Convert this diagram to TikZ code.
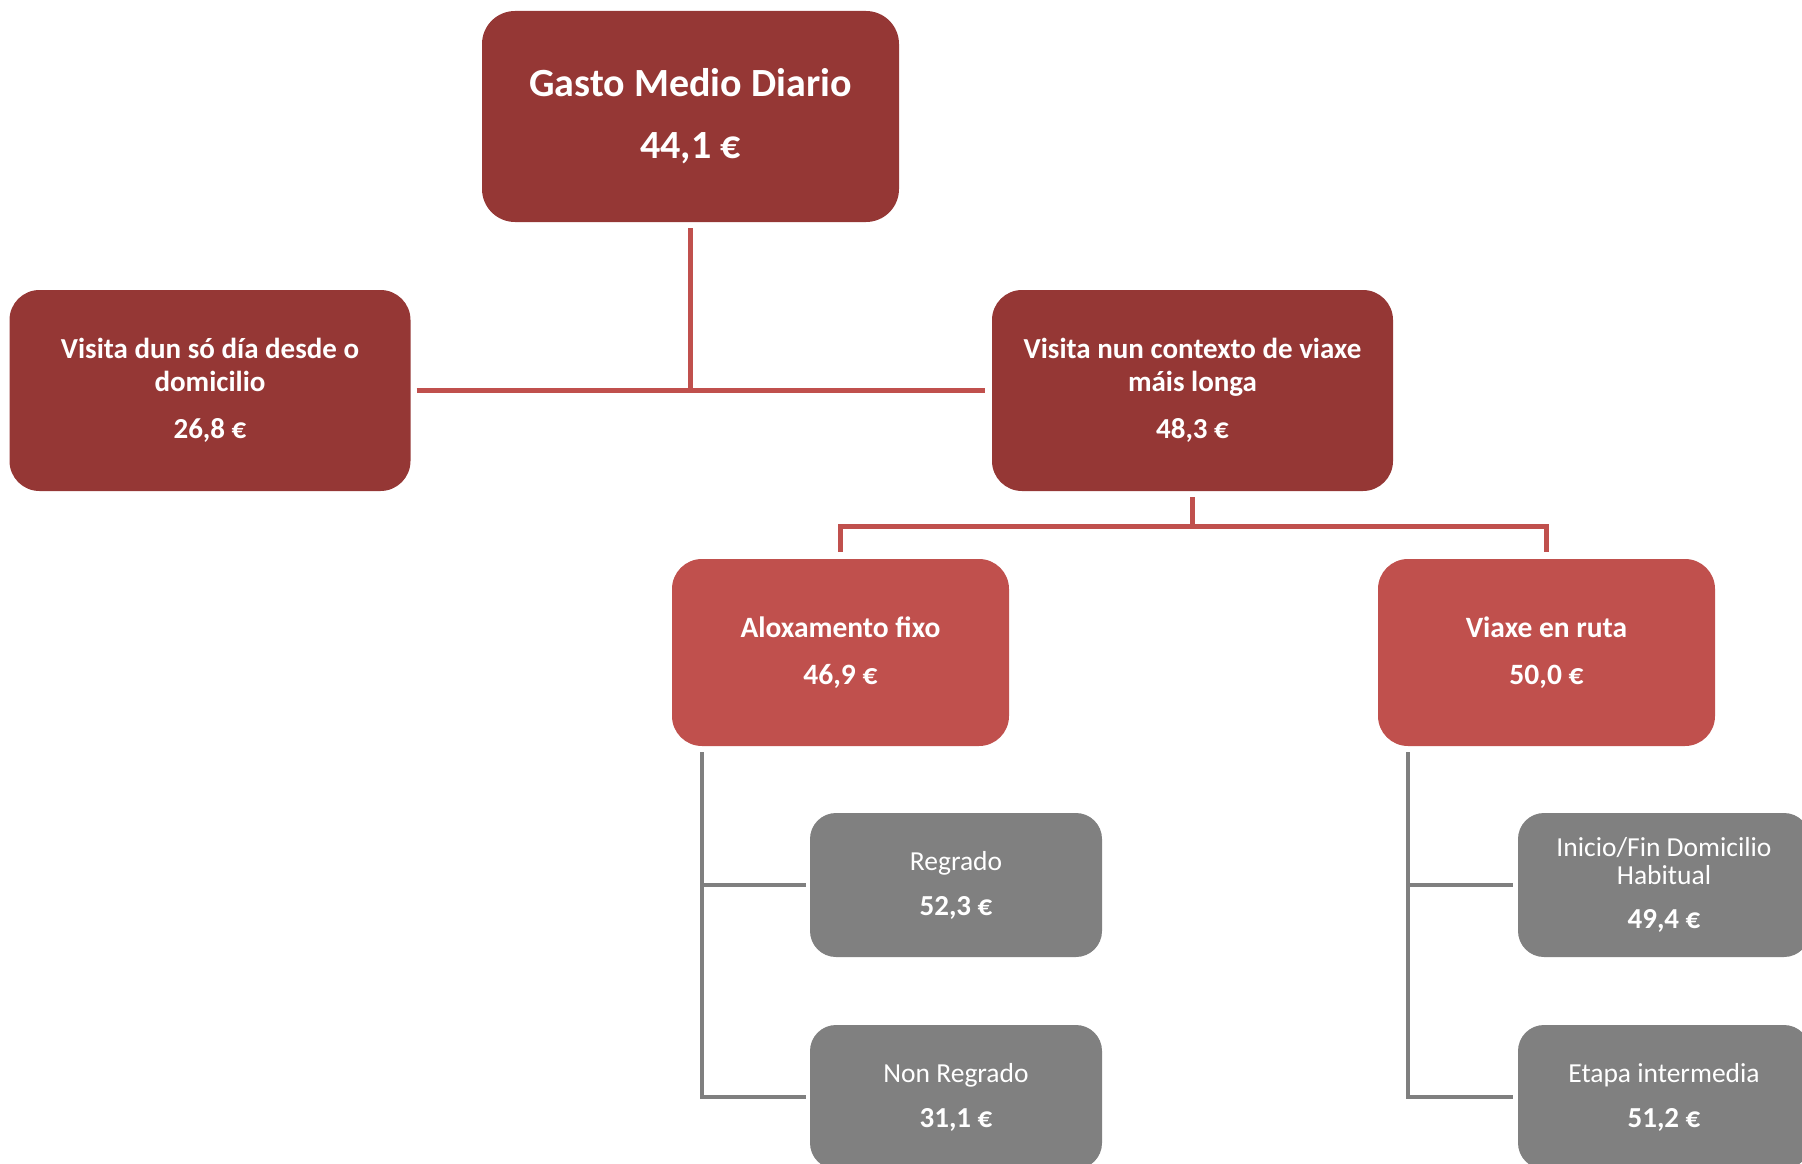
\documentclass[tikz,border=0pt]{standalone}
\usepackage{fontspec}
\setmainfont{Carlito}
\definecolor{dred}{RGB}{149,55,53}
\definecolor{lred}{RGB}{192,80,77}
\definecolor{gbox}{RGB}{128,128,128}
\definecolor{gline}{RGB}{127,127,127}
\newcommand{\gval}[1]{{\fontsize{29}{28}\selectfont\bfseries #1}}
\tikzset{
  box/.style={rounded corners=30pt, text=white, align=center, inner sep=0pt},
  topbox/.style={box, fill=dred, minimum width=417pt, minimum height=211pt, rounded corners=33pt,
    font=\fontsize{40}{46}\selectfont\bfseries},
  lvtwo/.style={box, fill=dred, minimum width=401pt, minimum height=201pt,
    font=\fontsize{29}{33}\selectfont\bfseries},
  lvthree/.style={box, fill=lred, minimum width=337pt, minimum height=187pt,
    font=\fontsize{29.5}{33}\selectfont\bfseries},
  lvfour/.style={box, fill=gbox, minimum width=292pt, minimum height=144pt, rounded corners=26pt,
    font=\fontsize{27.5}{28}\selectfont},
  redline/.style={draw=lred, line width=5pt, line join=miter},
  grayline/.style={draw=gline, line width=4.5pt, line join=miter}
}
\begin{document}
\begin{tikzpicture}[x=1pt,y=-1pt]
\useasboundingbox (0,0) rectangle (1802,1164);
\clip (0,0) rectangle (1802,1164);

\node[topbox] (top) at (690.5,116.5) {Gasto Medio Diario\\[16pt]44,1 €};
\node[lvtwo] (left) at (210,390.5) {Visita dun só día desde o\\domicilio\\[14pt]26,8 €};
\node[lvtwo] (right) at (1192.5,390.5) {Visita nun contexto de viaxe\\máis longa\\[14pt]48,3 €};
\node[lvthree] (alox) at (840.5,652.5) {Aloxamento fixo\\[14pt]46,9 €};
\node[lvthree] (ruta) at (1546.5,652.5) {Viaxe en ruta\\[14pt]50,0 €};
\node[lvfour] (reg) at (956,885) {Regrado\\[17pt]\gval{52,3 €}};
\node[lvfour] (nonreg) at (956,1097) {Non Regrado\\[17pt]\gval{31,1 €}};
\node[lvfour] (inicio) at (1664,885) {Inicio/Fin Domicilio\\Habitual\\[16pt]\gval{49,4 €}};
\node[lvfour] (etapa) at (1664,1097) {Etapa intermedia\\[17pt]\gval{51,2 €}};

% top level connectors
\coordinate (j1) at (top.south |- left.east);
\draw[redline] ([yshift=-6pt]top.south) -- (j1);
\draw[redline] ([xshift=6pt]left.east) -- ([xshift=-7pt]right.west);

% second level connectors
\coordinate (j2) at ([yshift=-35pt]right.south);
\draw[redline] ([yshift=-6pt]right.south) -- (j2);
\draw[redline] ([yshift=7pt]alox.north) -- (alox.north |- j2) -- (ruta.north |- j2) -- ([yshift=7pt]ruta.north);

% gray connectors left
\coordinate (ga) at ([xshift=30pt,yshift=-6pt]alox.south west);
\draw[grayline] (ga) -- (ga |- nonreg.west) -- ([xshift=-4pt]nonreg.west);
\draw[grayline] (ga |- reg.west) -- ([xshift=-4pt]reg.west);

% gray connectors right
\coordinate (gb) at ([xshift=30pt,yshift=-6pt]ruta.south west);
\draw[grayline] (gb) -- (gb |- etapa.west) -- ([xshift=-5pt]etapa.west);
\draw[grayline] (gb |- inicio.west) -- ([xshift=-5pt]inicio.west);
\end{tikzpicture}
\end{document}
